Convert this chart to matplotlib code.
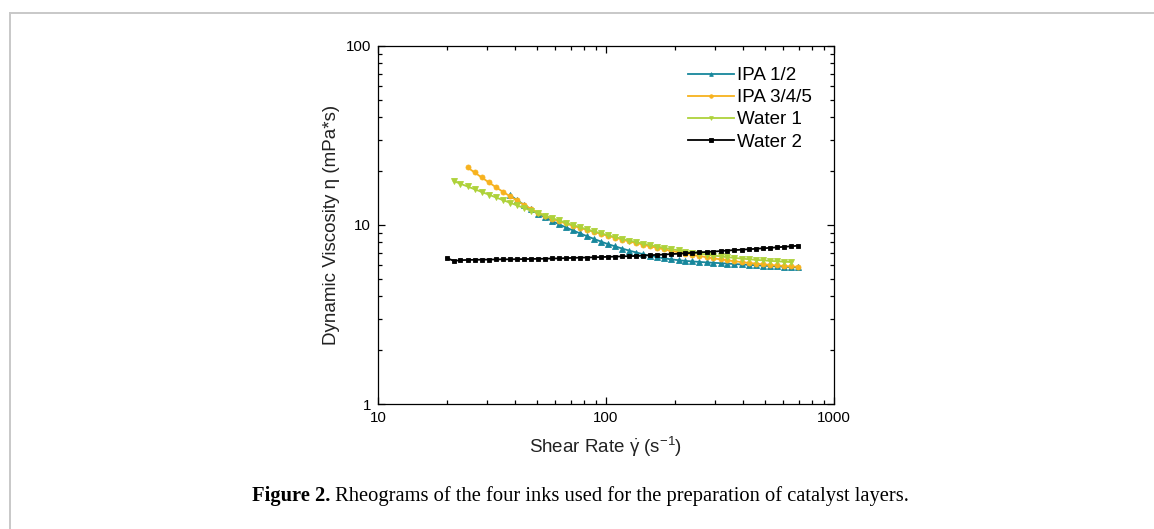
import matplotlib
matplotlib.use("Agg")
import matplotlib.pyplot as plt
from matplotlib.lines import Line2D
from matplotlib.ticker import FixedLocator, LogLocator, NullFormatter, FixedFormatter

plt.rcParams['font.family'] = ['Liberation Sans', 'DejaVu Sans']
plt.rcParams['mathtext.fontset'] = 'custom'
plt.rcParams['mathtext.rm'] = 'Liberation Sans'
plt.rcParams['mathtext.it'] = 'Liberation Sans'

# ---------------- data ----------------
shear_rate = [20.0, 21.5, 23.0, 24.7, 26.5, 28.5, 30.6, 32.8, 35.2, 37.8,
              40.6, 43.6, 46.8, 50.2, 53.9, 57.9, 62.1, 66.7, 71.6, 76.9,
              82.5, 88.6, 95.1, 102, 110, 118, 126, 136, 146, 156,
              168, 180, 193, 208, 223, 239, 257, 276, 296, 318,
              341, 366, 393, 422, 453, 486, 522, 560, 601, 646, 693]

series_names = ["IPA 1/2", "IPA 3/4/5", "Water 1", "Water 2"]
series_start = [9, 3, 1, 0]   # first shear-rate index of each measurement

ipa_12 = [14.72, 13.81, 12.98, 12.23, 11.56, 11.05, 10.55, 10.10, 9.70, 9.33,
          8.98, 8.66, 8.36, 8.08, 7.82, 7.59, 7.38, 7.20, 7.02, 6.86,
          6.73, 6.61, 6.51, 6.43, 6.36, 6.30, 6.26, 6.22, 6.18, 6.15,
          6.12, 6.09, 6.05, 6.02, 5.99, 5.96, 5.93, 5.90, 5.87, 5.85,
          5.82, 5.80]

ipa_345 = [20.99, 19.66, 18.44, 17.32, 16.30, 15.37, 14.51, 13.72, 12.99, 12.32,
           11.71, 11.26, 10.86, 10.51, 10.20, 9.91, 9.64, 9.39, 9.15, 8.92,
           8.70, 8.49, 8.29, 8.10, 7.93, 7.76, 7.60, 7.45, 7.31, 7.17,
           7.04, 6.92, 6.81, 6.71, 6.61, 6.51, 6.43, 6.35, 6.27, 6.21,
           6.14, 6.09, 6.03, 5.99, 5.94, 5.91, 5.87, 5.84]

water_1 = [17.60, 16.99, 16.41, 15.85, 15.30, 14.78, 14.28, 13.80, 13.34, 12.89,
           12.46, 12.05, 11.66, 11.28, 10.93, 10.60, 10.28, 9.98, 9.71, 9.44,
           9.20, 8.97, 8.75, 8.55, 8.36, 8.18, 8.02, 7.86, 7.72, 7.58,
           7.45, 7.33, 7.22, 7.11, 7.01, 6.92, 6.83, 6.75, 6.68, 6.61,
           6.55, 6.49, 6.44, 6.39, 6.35, 6.31, 6.27, 6.24, 6.21]

water_2 = [6.55, 6.30, 6.36, 6.38, 6.39, 6.40, 6.41, 6.42, 6.43, 6.43,
           6.44, 6.45, 6.46, 6.47, 6.48, 6.50, 6.51, 6.53, 6.55, 6.57,
           6.58, 6.60, 6.62, 6.64, 6.66, 6.68, 6.70, 6.72, 6.75, 6.78,
           6.81, 6.84, 6.88, 6.91, 6.95, 6.99, 7.03, 7.07, 7.11, 7.15,
           7.20, 7.24, 7.28, 7.32, 7.36, 7.41, 7.45, 7.50, 7.55, 7.60, 7.66]

series_values = [ipa_12, ipa_345, water_1, water_2]

x_ticks = [10, 100, 1000]
x_tick_labels = ["10", "100", "1000"]
y_ticks = [1, 10, 100]
y_tick_labels = ["1", "10", "100"]

x_label = r"Shear Rate $\dot{\gamma}$ (s$^{\mathregular{-1}}$)"
y_label = "Dynamic Viscosity η (mPa*s)"
caption_bold = "Figure 2."
caption_rest = " Rheograms of the four inks used for the preparation of catalyst layers."

# ---------------- styling ----------------
colors = ["#17879C", "#F7B21E", "#AED23A", "#000000"]
markers = ["^", "o", "v", "s"]
msizes = [3.8, 3.6, 3.8, 3.2]

W, H = 1154, 529
fig = plt.figure(figsize=(W / 100, H / 100), dpi=100)
ax = fig.add_axes([378 / W, 1 - 404 / H, (834 - 378) / W, (404 - 46) / H])

for name, start, vals, c, m, ms in zip(series_names, series_start, series_values,
                                       colors, markers, msizes):
    xs = shear_rate[start:start + len(vals)]
    ax.plot(xs, vals, color=c, marker=m, markersize=ms, linewidth=1.3,
            markeredgewidth=0.6, label=name)

ax.set_xscale("log")
ax.set_yscale("log")
ax.set_xlim(10, 1000)
ax.set_ylim(1, 100)

ax.xaxis.set_major_locator(FixedLocator(x_ticks))
ax.xaxis.set_major_formatter(FixedFormatter(x_tick_labels))
ax.yaxis.set_major_locator(FixedLocator(y_ticks))
ax.yaxis.set_major_formatter(FixedFormatter(y_tick_labels))
ax.xaxis.set_minor_locator(LogLocator(base=10, subs=range(2, 10), numticks=20))
ax.yaxis.set_minor_locator(LogLocator(base=10, subs=range(2, 10), numticks=20))
ax.xaxis.set_minor_formatter(NullFormatter())
ax.yaxis.set_minor_formatter(NullFormatter())

ax.tick_params(which="both", direction="in", top=True, right=True, width=0.9,
               colors="black", labelsize=10.8, pad=5)
ax.tick_params(which="major", length=5)
ax.tick_params(which="minor", length=3)
for s in ax.spines.values():
    s.set_linewidth(0.9)

ax.set_xlabel(x_label, fontsize=13.5, color="#222222", labelpad=7)
ax.set_ylabel(y_label, fontsize=13.5, color="#222222", labelpad=4)

leg = ax.legend(loc="upper left", bbox_to_anchor=((688 - 378) / 456, (404 - 67) / 358),
                frameon=False, fontsize=13.5, handlelength=2.45, handletextpad=0.15,
                labelspacing=0.27, borderpad=0, borderaxespad=0, markerscale=0.7)

# caption
cap_y = 1 - 496 / H
t1 = fig.text(252 / W, cap_y, caption_bold, fontsize=14.8, fontweight="bold",
              family="Liberation Serif", va="center", ha="left")
fig.canvas.draw()
bb = t1.get_window_extent()
fig.text(bb.x1 / W, cap_y, caption_rest, fontsize=14.8,
         family="Liberation Serif", va="center", ha="left")

# page border lines (top and left)
fig.add_artist(Line2D([10 / W, 1.0], [1 - 13 / H, 1 - 13 / H], color="#c8c8c8",
                      linewidth=1.4, transform=fig.transFigure))
fig.add_artist(Line2D([10 / W, 10 / W], [0.0, 1 - 13 / H], color="#c8c8c8",
                      linewidth=1.4, transform=fig.transFigure))

fig.savefig("out.png", dpi=100)
